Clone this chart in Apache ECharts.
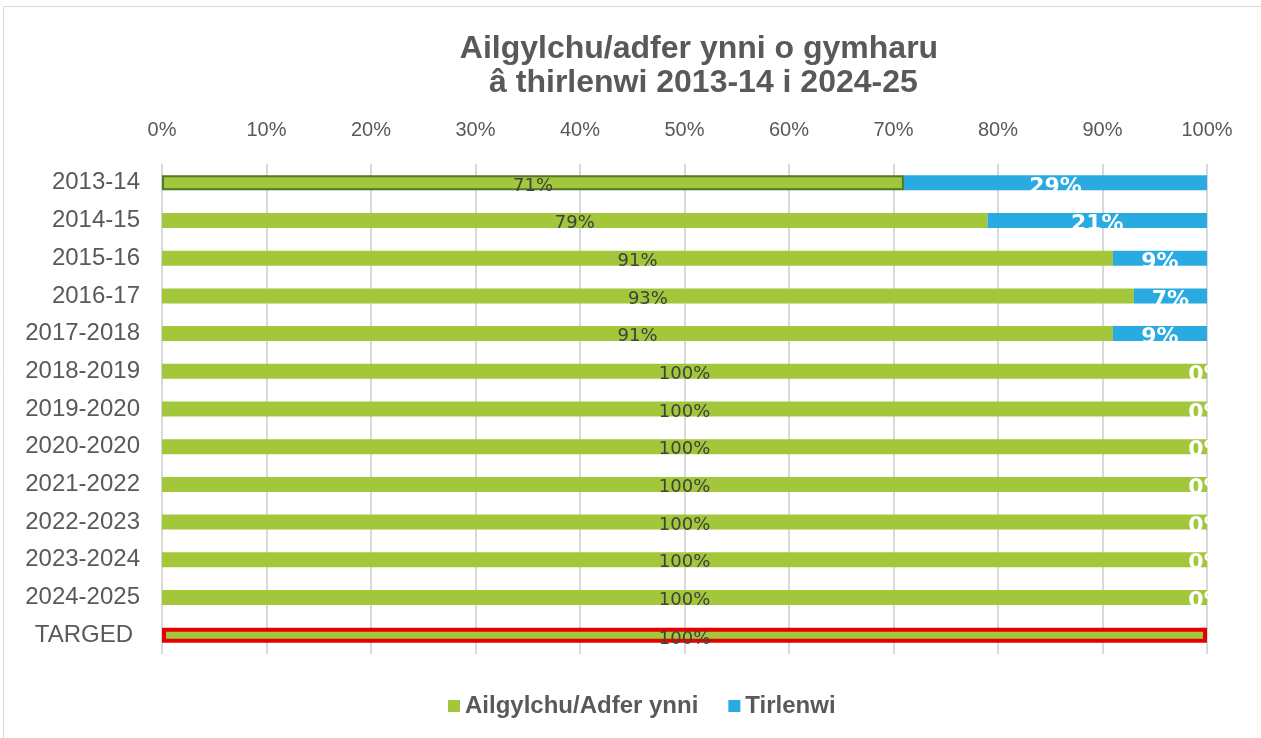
<!DOCTYPE html>
<html>
<head>
<meta charset="utf-8">
<script src="https://cdn.jsdelivr.net/npm/echarts@6/dist/echarts.min.js"></script>
<style>
body { margin: 0; background: #fff; }
#chart { width: 1261px; height: 738px; }
</style>
</head>
<body>
<div id="chart"></div>
<script>
var years = ['2013-14', '2014-15', '2015-16', '2016-17', '2017-2018', '2018-2019', '2019-2020',
  '2020-2020', '2021-2022', '2022-2023', '2023-2024', '2024-2025', 'TARGED'];
var recycled = [71, 79, 91, 93, 91, 100, 100, 100, 100, 100, 100, 100, 100];
var landfill = [29, 21, 9, 7, 9, 0, 0, 0, 0, 0, 0, 0, null];
var legendNames = ['Ailgylchu/Adfer ynni', 'Tirlenwi'];

var greenData = recycled.map(function (v, i) {
  var item = { value: v };
  if (i == 0) item.itemStyle = { borderColor: '#4e7a27', borderWidth: 2 };
  if (years[i] == 'TARGED') {
    item.itemStyle = { borderColor: '#e60000', borderWidth: 4 };
    item.label = { offset: [0, 4] };
  }
  return item;
});

var chart = echarts.init(document.getElementById('chart'));
chart.setOption({
  backgroundColor: '#fff',
  animation: false,
  title: {
    text: 'Ailgylchu/adfer ynni o gymharu\n â thirlenwi 2013-14 i 2024-25',
    left: 694,
    textAlign: 'center',
    top: 27,
    textStyle: { fontFamily: 'Liberation Sans', fontSize: 32, fontWeight: 'bold', color: '#595959', lineHeight: 34 }
  },
  graphic: [{
    type: 'rect',
    shape: { x: 3.5, y: 6.5, width: 1280, height: 760 },
    style: { fill: 'none', stroke: '#d9d9d9', lineWidth: 1 }
  }],
  legend: {
    data: legendNames,
    top: 689,
    left: 443,
    itemWidth: 12,
    itemHeight: 12,
    itemGap: 30,
    icon: 'rect',
    textStyle: { fontFamily: 'Liberation Sans', fontSize: 24, fontWeight: 'bold', color: '#595959' }
  },
  grid: { left: 162, right: 54, top: 164, bottom: 84 },
  xAxis: {
    type: 'value',
    position: 'top',
    min: 0,
    max: 100,
    interval: 10,
    axisLine: { show: false },
    axisTick: { show: false },
    axisLabel: { formatter: '{value}%', fontFamily: 'Liberation Sans', fontSize: 20, color: '#595959', margin: 24 },
    splitLine: { lineStyle: { color: '#d9d9d9', width: 2 } }
  },
  yAxis: {
    type: 'category',
    data: years,
    inverse: true,
    axisLine: { show: false },
    axisTick: { show: false },
    axisLabel: {
      fontFamily: 'Liberation Sans', fontSize: 24, color: '#595959', margin: 22,
      formatter: function (v) { return v == 'TARGED' ? '{t|' + v + '}' : v; },
      rich: { t: { fontFamily: 'Liberation Sans', fontSize: 24, color: '#595959', padding: [0, 7, 0, 0] } }
    }
  },
  series: [{
    name: legendNames[0],
    type: 'bar',
    stack: 'total',
    barWidth: 15,
    data: greenData,
    itemStyle: { color: '#a2c73b' },
    label: {
      show: true,
      position: 'inside',
      formatter: '{c}%',
      fontFamily: 'DejaVu Sans',
      fontSize: 18,
      color: '#404040',
      offset: [0, 3]
    }
  }, {
    name: legendNames[1],
    type: 'bar',
    stack: 'total',
    barWidth: 15,
    data: landfill,
    itemStyle: { color: '#29abe2' },
    label: {
      show: true,
      position: 'inside',
      formatter: '{c}%',
      fontFamily: 'DejaVu Sans',
      fontSize: 22,
      fontWeight: 'bold',
      color: '#fff',
      offset: [0, 4]
    }
  }]
});
</script>
</body>
</html>
